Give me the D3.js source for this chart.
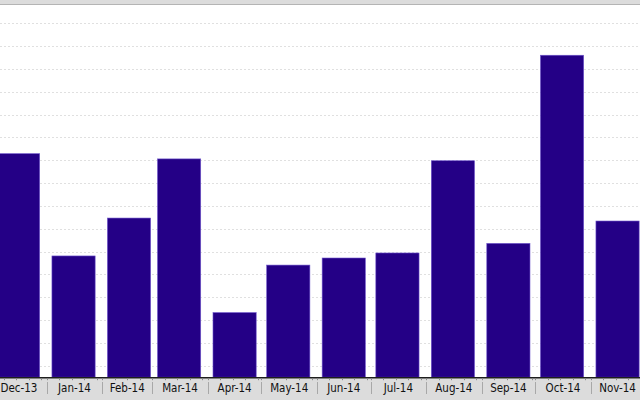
<!DOCTYPE html>
<html>
<head>
<meta charset="utf-8">
<script src="https://cdn.jsdelivr.net/npm/d3@7/dist/d3.min.js"></script>
<style>
  html, body { margin: 0; padding: 0; background: #fff; }
  svg { display: block; }
</style>
</head>
<body>
<svg id="chart" width="640" height="400"></svg>
<script>
// ---- data ----
const barDates = ["2013-12-16","2014-01-16","2014-02-16","2014-03-16","2014-04-16","2014-05-16",
                  "2014-06-16","2014-07-16","2014-08-16","2014-09-16","2014-10-16","2014-11-16"];
const values = [102.9, 58.1, 74.7, 100.6, 33.3, 54.1, 57.2, 59.4, 99.8, 63.6, 146, 73.4];
const monthLabels = ["Dec-13","Jan-14","Feb-14","Mar-14","Apr-14","May-14",
                     "Jun-14","Jul-14","Aug-14","Sep-14","Oct-14","Nov-14"];
const monthStarts = ["2013-12-01","2014-01-01","2014-02-01","2014-03-01","2014-04-01","2014-05-01",
                     "2014-06-01","2014-07-01","2014-08-01","2014-09-01","2014-10-01","2014-11-01","2014-12-01"];
const gridValues = [10,20,30,40,50,60,70,80,90,100,110,120,130,140,150,160];

const W = 640, H = 400;
const baseY = 377.2;
const parse = d3.utcParse("%Y-%m-%d");

const x = d3.scaleUtc()
  .domain([parse("2014-01-01"), parse("2014-11-01")])
  .range([46.7, 590.7]);
const y = d3.scaleLinear().domain([5, 168]).range([baseY, 5]);

const svg = d3.select("#chart");

// top band
svg.append("rect").attr("x", 0).attr("y", 0).attr("width", W).attr("height", 4.5).attr("fill", "#dcdcdc");
svg.append("line").attr("x1", 0).attr("x2", W).attr("y1", 4.5).attr("y2", 4.5)
  .attr("stroke", "#b4b4b4").attr("stroke-width", 1);

// gridlines
svg.append("g").selectAll("line").data(gridValues).join("line")
  .attr("x1", 0).attr("x2", W)
  .attr("y1", d => Math.round(y(d)) + 0.5).attr("y2", d => Math.round(y(d)) + 0.5)
  .attr("stroke", "#e0e0e0").attr("stroke-width", 1).attr("stroke-dasharray", "2,2");

// bars
const barW = 43.2;
svg.append("g").selectAll("rect").data(values).join("rect")
  .attr("x", (d, i) => x(parse(barDates[i])) - barW / 2)
  .attr("width", barW)
  .attr("y", d => y(d))
  .attr("height", d => baseY - y(d))
  .attr("fill", "#240086")
  .attr("stroke", "#6f55cc")
  .attr("stroke-width", 0.6);

// axis band
svg.append("rect").attr("x", 0).attr("y", baseY + 1).attr("width", W).attr("height", H - baseY - 1)
  .attr("fill", "#dcdcdc");
svg.append("line").attr("x1", 0).attr("x2", W).attr("y1", baseY + 0.5).attr("y2", baseY + 0.5)
  .attr("stroke", "#1e1e1e").attr("stroke-width", 1.6);

// minor weekly ticks
const weeks = d3.utcDay.every(7).range(parse("2013-12-01"), parse("2014-12-05"));
svg.append("g").selectAll("line").data(weeks).join("line")
  .attr("x1", d => Math.round(x(d)) + 0.5).attr("x2", d => Math.round(x(d)) + 0.5)
  .attr("y1", baseY + 1).attr("y2", baseY + 3)
  .attr("stroke", "#888").attr("stroke-width", 1);

// month separators
const starts = monthStarts.map(parse);
svg.append("g").selectAll("line").data(starts.slice(1, 12)).join("line")
  .attr("x1", d => Math.round(x(d)) + 0.5).attr("x2", d => Math.round(x(d)) + 0.5)
  .attr("y1", 382).attr("y2", 394)
  .attr("stroke", "#a8a8a8").attr("stroke-width", 1);

// month labels
svg.append("g").selectAll("text").data(monthLabels).join("text")
  .attr("x", (d, i) => (x(starts[i]) + x(starts[i + 1])) / 2)
  .attr("y", 392)
  .attr("text-anchor", "middle")
  .attr("font-family", "'DejaVu Sans Condensed', 'DejaVu Sans', sans-serif")
  .attr("font-size", "11.5px")
  .attr("fill", "#111")
  .text(d => d);
</script>
</body>
</html>
